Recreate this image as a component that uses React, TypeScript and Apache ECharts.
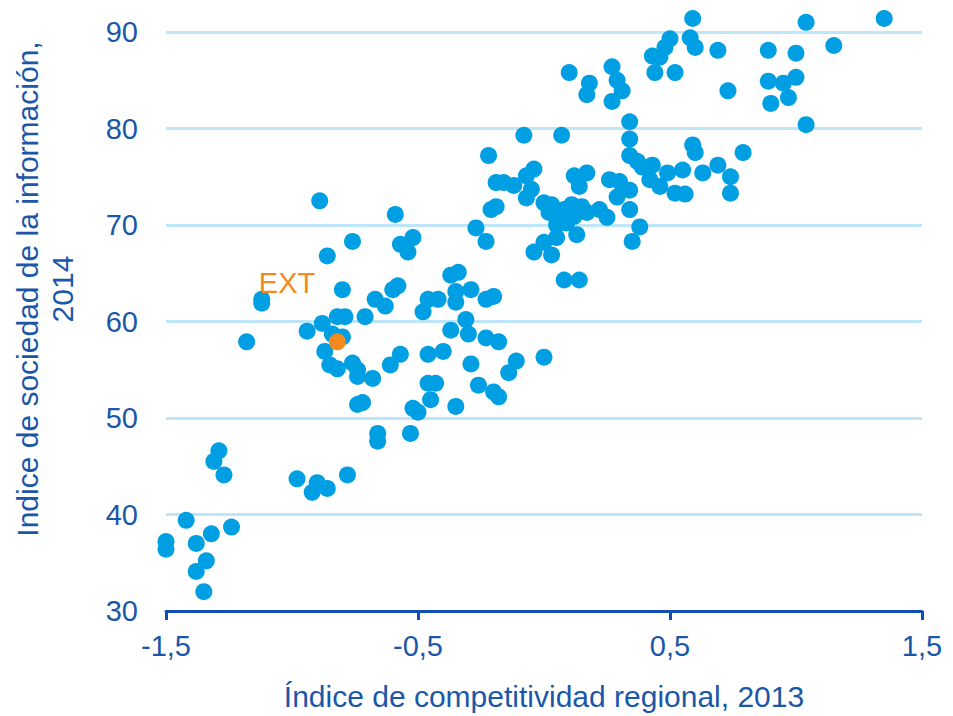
import React, { useEffect, useRef } from "react";
import * as echarts from "echarts";

// Regional competitiveness index 2013 (x) and information society index 2014 (y)
const competitividad: number[] = [
  -1.50, -1.50, -1.42, -1.38, -1.32, -1.24, -1.34, -1.38, -1.35, -1.29,
  -1.31, -1.27, -0.98, -0.90, -0.92, -0.86, -0.78, -0.66, -0.66, -0.74,
  -0.72, -0.53, -0.52, -0.50, -0.45, -0.46, -0.43, -0.35, -0.26, -0.20,
  -0.18, -0.29, -0.40, -0.46, -0.57, -0.61, -0.14, -0.11, 0.00, -0.31,
  -0.37, -0.30, -0.23, -0.18, -0.23, -0.20, -0.29, -0.35, -0.35, -0.37,
  -0.34, -0.46, -0.42, -0.48, -0.60, -0.58, -0.67, -0.63, -0.71, -0.79,
  -0.82, -0.88, -0.94, -0.84, -0.80, -0.87, -0.85, -0.82, -0.76, -0.74,
  -0.74, -0.68, -0.80, -1.12, -1.12, -1.18, -0.89, -0.76, -0.86, -0.59,
  -0.57, -0.52, -0.54, -0.27, -0.23, -0.21, -0.19, -0.22, -0.19, -0.16,
  -0.12, -0.07, -0.04, -0.05, -0.07, -0.08, 0.07, -0.04, 0.03, 0.08,
  0.14, 0.00, 0.03, 0.02, 0.05, 0.08, 0.11, 0.12, 0.15, 0.17,
  0.05, 0.09, 0.05, 0.00, 0.13, 0.12, 0.17, 0.14, 0.22, 0.25,
  0.26, 0.30, 0.34, 0.29, 0.34, 0.38, 0.35, 0.34, 0.34, 0.34,
  0.37, 0.39, 0.43, 0.42, 0.46, 0.49, 0.55, 0.52, 0.56, 0.59,
  0.60, 0.63, 0.69, 0.74, 0.74, 0.79, 0.59, 1.04, 1.35, 0.58,
  0.60, 0.50, 0.48, 0.43, 0.46, 0.44, 0.52, 0.69, 0.89, 1.00,
  1.15, 0.73, 0.89, 0.95, 1.00, 0.97, 0.90, 1.04, 0.27, 0.29,
  0.31, 0.27, 0.18, 0.17, 0.10,
];
const sociedad: number[] = [
  37.2, 36.4, 39.4, 37.0, 38.0, 38.7, 35.2, 34.1, 32.0, 46.6,
  45.5, 44.1, 43.7, 43.3, 42.3, 42.7, 44.1, 48.4, 47.6, 51.4,
  51.6, 48.4, 51.0, 50.6, 51.9, 53.6, 53.6, 51.2, 53.4, 52.7,
  52.2, 55.6, 56.9, 56.6, 56.6, 55.5, 54.7, 55.9, 56.3, 60.2,
  59.1, 58.7, 58.3, 57.9, 62.3, 62.6, 63.3, 63.1, 62.0, 64.8,
  65.1, 62.3, 62.3, 61.0, 63.3, 63.7, 62.3, 61.6, 60.5, 60.5,
  60.5, 59.8, 59.0, 58.7, 58.4, 56.9, 55.5, 55.1, 55.7, 55.0,
  54.3, 54.1, 63.3, 62.3, 61.9, 57.9, 72.5, 68.3, 66.8, 71.1,
  68.0, 68.7, 67.2, 69.7, 68.3, 71.6, 71.9, 77.2, 74.4, 74.4,
  74.1, 75.1, 75.8, 73.7, 72.8, 79.3, 79.3, 67.2, 66.9, 64.3,
  64.3, 72.3, 72.1, 71.3, 71.1, 71.6, 72.1, 70.9, 71.9, 71.3,
  70.0, 70.2, 68.7, 68.2, 69.0, 75.1, 75.4, 74.0, 71.6, 70.8,
  74.7, 74.5, 73.6, 72.9, 71.6, 69.8, 68.3, 80.7, 78.9, 77.2,
  76.6, 76.0, 76.2, 74.7, 74.0, 75.4, 75.7, 73.3, 73.2, 78.3,
  77.5, 75.4, 76.2, 75.0, 73.3, 77.5, 91.4, 91.0, 91.4, 89.4,
  88.4, 89.3, 88.4, 87.5, 87.4, 85.8, 85.8, 88.1, 88.1, 87.8,
  88.6, 83.9, 84.9, 84.7, 85.3, 83.2, 82.6, 80.4, 86.4, 85.0,
  83.9, 82.8, 84.7, 83.5, 85.8,
];

const extLabel = "EXT";
const extX: number[] = [-0.82];
const extY: number[] = [57.9];

const xTicks = { min: -1.5, max: 1.5, step: 1 };
const yTicks = { min: 30, max: 90, step: 10 };

const xTitle = "Índice de competitividad regional, 2013";
const yTitle = "Indice de sociedad de la información,\n2014";

const FONT = '"Liberation Sans", Arial, Helvetica, sans-serif';
const TEXT = "#1B57A8";
const AXIS = "#1050A8";
const DOT = "#009FE3";
const ORANGE = "#F28A1E";
const GRID = "#BDE6F8";

export default function App() {
  const ref = useRef<HTMLDivElement>(null);

  useEffect(() => {
    if (!ref.current) return;
    const chart = echarts.init(ref.current, undefined, { renderer: "svg" });
    const regions = competitividad.map((x, i) => [x, sociedad[i]]);
    const ext = extX.map((x, i) => [x, extY[i]]);

    chart.setOption({
      animation: false,
      backgroundColor: "#ffffff",
      textStyle: { fontFamily: FONT },
      grid: { left: 166, right: 31, top: 32, bottom: 104, containLabel: false },
      xAxis: {
        type: "value",
        min: xTicks.min,
        max: xTicks.max,
        interval: xTicks.step,
        name: xTitle,
        nameLocation: "middle",
        nameGap: 70,
        nameTextStyle: { color: TEXT, fontSize: 30, fontFamily: FONT },
        axisLine: { show: true, lineStyle: { color: AXIS, width: 3 } },
        axisTick: { show: true, length: 9, lineStyle: { color: AXIS, width: 3 } },
        axisLabel: {
          color: TEXT,
          fontSize: 29,
          fontFamily: FONT,
          margin: 20,
          formatter: (v: number) => v.toFixed(1).replace(".", ","),
        },
        splitLine: { show: false },
      },
      yAxis: {
        type: "value",
        min: yTicks.min,
        max: yTicks.max,
        interval: yTicks.step,
        axisLine: { show: false },
        axisTick: { show: false },
        axisLabel: { color: TEXT, fontSize: 29, fontFamily: FONT, margin: 28 },
        splitLine: { show: true, lineStyle: { color: GRID, width: 3 } },
      },
      graphic: [
        {
          type: "text",
          x: 45,
          y: 289,
          rotation: Math.PI / 2,
          style: {
            text: yTitle,
            fill: TEXT,
            font: `30px ${FONT}`,
            align: "center",
            verticalAlign: "middle",
            lineHeight: 35,
          },
        },
      ],
      series: [
        {
          type: "scatter",
          data: regions,
          symbol: "circle",
          symbolSize: 17,
          clip: false,
          itemStyle: { color: DOT, opacity: 1 },
          z: 2,
        },
        {
          type: "scatter",
          data: ext,
          symbol: "circle",
          symbolSize: 17,
          clip: false,
          itemStyle: { color: ORANGE, opacity: 1 },
          label: {
            show: true,
            formatter: extLabel,
            position: [-70, -65],
            color: ORANGE,
            fontSize: 29,
            fontFamily: FONT,
          },
          z: 3,
        },
      ],
    });
    return () => chart.dispose();
  }, []);

  return (
    <div
      ref={ref}
      style={{ position: "fixed", left: 0, top: 0, width: 953, height: 716 }}
    />
  );
}
